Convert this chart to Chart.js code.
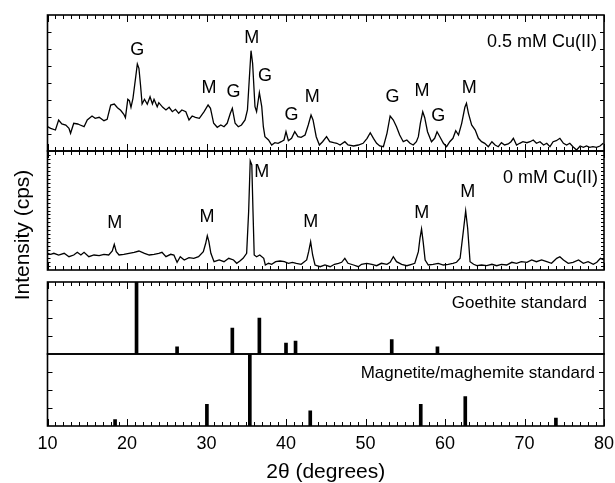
<!DOCTYPE html>
<html>
<head>
<meta charset="utf-8">
<script src="https://cdn.jsdelivr.net/npm/chart.js@4.4.0/dist/chart.umd.min.js"></script>
<style>
  html, body { margin: 0; padding: 0; background: #fff; overflow: hidden; }
  #wrap { position: relative; width: 615px; height: 483px; }
  #wrap canvas { position: absolute; left: 0; top: 0; }
</style>
</head>
<body>
<div id="wrap">
  <canvas id="p1" width="615" height="483"></canvas>
  <canvas id="p2" width="615" height="483"></canvas>
  <canvas id="p3" width="615" height="483"></canvas>
  <canvas id="p4" width="615" height="483"></canvas>
</div>
<script>
// ---- data (2theta in degrees, intensity in cps) ----
const xTicks = [10, 20, 30, 40, 50, 60, 70, 80];

// 0.5 mM Cu(II) pattern
const angles05 = [10.0,10.4,11.0,11.4,11.8,12.3,12.7,12.9,13.3,13.8,
  14.1,14.6,15.0,15.6,16.0,16.5,17.1,17.5,17.95,18.4,
  18.8,19.2,19.6,19.8,20.1,20.3,20.5,20.75,21.1,21.3,
  21.5,21.7,21.9,22.2,22.55,22.9,23.2,23.4,23.8,24.0,
  24.5,24.9,25.3,25.7,26.1,26.5,26.9,27.4,27.8,28.2,
  28.6,29.1,29.7,30.2,30.5,30.9,31.35,31.8,32.2,32.6,
  33.0,33.25,33.6,34.0,34.4,34.85,35.15,35.4,35.6,35.8,
  36.1,36.3,36.65,36.95,37.15,37.35,37.8,38.2,38.6,39.0,
  39.4,39.75,40.0,40.3,40.7,41.1,41.5,41.9,42.4,42.8,
  43.15,43.4,43.8,44.2,44.6,45.1,45.5,46.0,46.4,46.8,
  47.4,47.8,48.5,49.1,49.7,50.2,50.6,51.0,51.4,51.8,
  52.25,52.7,53.1,53.5,53.9,54.3,54.75,55.2,55.6,56.0,
  56.4,56.65,56.9,57.2,57.45,57.8,58.3,58.7,59.0,59.35,
  59.8,60.2,60.6,61.0,61.35,61.7,62.1,62.5,62.7,62.95,
  63.35,63.8,64.2,64.6,65.0,65.45,65.9,66.3,66.7,67.1,
  67.5,67.95,68.3,68.6,69.0,69.4,69.8,70.3,70.7,71.1,
  71.5,71.95,72.4,72.8,73.2,73.6,74.0,74.45,74.9,75.3,
  75.7,76.1,76.55,77.0,77.4,77.8,78.2,78.6,79.05,79.5,
  79.9];
const counts05 = [243,227,210,310,270,260,227,177,277,270,
  260,243,310,350,327,337,303,317,460,470,
  433,407,367,333,517,503,437,527,743,870,
  827,660,470,517,467,543,470,517,443,483,
  437,410,437,393,417,377,410,393,310,350,
  337,327,393,460,427,277,237,260,243,277,
  377,427,277,243,260,310,410,743,1003,877,
  443,393,583,443,243,143,110,60,83,77,
  93,110,193,103,127,193,143,137,160,260,
  360,310,143,60,93,143,93,83,77,60,
  93,60,50,60,77,127,183,127,77,50,
  43,177,350,310,243,160,93,110,77,60,
  93,143,277,393,333,193,93,127,193,143,
  77,43,93,127,203,160,277,437,477,377,
  260,210,127,93,77,43,93,60,43,83,
  60,70,93,127,60,77,93,83,93,110,
  77,93,60,77,43,93,103,127,77,60,
  77,43,10,50,37,50,37,43,37,50,
  77];

// 0 mM Cu(II) pattern
const angles0 = [10.0,10.4,10.8,11.4,12.1,12.7,13.3,13.75,14.2,14.6,
  15.2,15.85,16.5,17.1,17.7,18.15,18.4,18.65,19.0,19.6,
  20.25,20.9,21.5,22.2,22.8,23.4,24.0,24.4,24.9,25.5,
  25.9,26.3,26.7,27.2,27.8,28.4,29.0,29.6,29.9,30.1,
  30.3,30.55,30.95,31.6,32.2,32.8,33.4,33.8,34.2,34.6,
  35.05,35.3,35.5,35.7,35.85,36.0,36.3,36.7,37.2,37.4,
  37.8,38.2,38.7,39.25,39.8,40.3,40.8,41.3,41.9,42.6,
  42.85,43.1,43.35,43.65,44.3,44.9,45.55,46.1,46.6,47.0,
  47.4,47.8,48.5,49.1,49.5,50.15,50.8,51.4,52.0,52.7,
  53.1,53.5,53.9,54.55,55.2,55.8,56.2,56.65,56.85,57.05,
  57.25,57.5,57.9,58.5,59.15,59.8,60.4,61.0,61.45,61.9,
  62.3,62.6,62.85,63.15,63.6,64.0,64.6,65.25,65.9,66.5,
  67.1,67.75,68.4,69.0,69.6,70.3,70.9,71.5,72.15,72.8,
  73.4,74.05,74.45,74.9,75.5,76.1,76.8,77.4,78.0,78.65,
  79.1,79.55,80.0];
const counts0 = [167,157,167,150,167,133,150,177,150,177,
  133,150,143,157,150,190,257,183,150,157,
  167,177,190,167,150,157,167,177,133,157,
  150,77,133,100,123,117,133,183,267,343,
  283,167,83,100,83,117,100,67,90,117,
  167,583,1090,1050,583,150,133,150,117,50,
  67,57,83,90,83,67,77,67,57,100,
  183,283,150,50,33,50,33,57,67,77,
  117,67,50,33,57,67,57,43,67,57,
  77,133,83,57,43,57,67,183,317,410,
  283,100,50,57,67,50,57,67,77,117,
  383,590,417,83,57,43,50,43,57,43,
  57,50,77,67,83,77,100,83,100,83,
  67,117,133,100,67,77,100,67,83,57,
  77,117,100];

// reference standards (relative intensity, %)
const goethiteAngles = [21.2, 26.3, 33.25, 36.65, 40.0, 41.2, 53.3, 59.05];
const goethiteRel = [100, 10, 36, 50, 15, 18, 20, 10];
const magnetiteAngles = [18.5, 30.05, 35.45, 43.05, 56.95, 62.55, 73.95];
const magnetiteRel = [9, 30, 100, 21, 30, 41, 11];

// phase labels (G = goethite, M = magnetite/maghemite) and the intensity they sit at
const labels05Angles = [21.3, 30.3, 33.4, 35.7, 37.35, 40.7, 43.3, 53.4, 57.1, 59.15, 63.05];
const labels05Text = ['G','M','G','M','G','G','M','G','M','G','M'];
const labels05Level = [1010, 627, 593, 1127, 750, 360, 537, 537, 600, 350, 627];
const labels0Angles = [18.45, 30.05, 36.95, 43.1, 57.07, 62.85];
const labels0Text = ['M','M','M','M','M','M'];
const labels0Level = [467, 533, 983, 483, 567, 783];

// ---- drawing ----
const FONT = '"Liberation Sans", Arial, Helvetica, sans-serif';
Chart.defaults.font.family = FONT;
Chart.defaults.color = '#000';

// frame, inward ticks and text for each panel
const framePlugin = {
  id: 'frame',
  afterDatasetsDraw(chart, args, o) {
    const { ctx, chartArea: a } = chart;
    const x = chart.scales.x, y = chart.scales.y;
    ctx.save();
    ctx.strokeStyle = '#000';
    ctx.lineWidth = 1.6;
    ctx.strokeRect(a.left, a.top, a.right - a.left, a.bottom - a.top);

    ctx.lineWidth = 1;
    ctx.beginPath();
    for (let v = xTicks[0]; v <= xTicks[xTicks.length - 1]; v++) {
      const px = Math.round(x.getPixelForValue(v)) + 0.5;
      const len = xTicks.includes(v) ? 7 : 4;
      if (o.ticksTop) { ctx.moveTo(px, a.top); ctx.lineTo(px, a.top + len); }
      if (o.ticksBottom) { ctx.moveTo(px, a.bottom); ctx.lineTo(px, a.bottom - len); }
    }
    const h = a.bottom - a.top;
    for (let i = 1; i < o.yDivisions; i++) {
      const py = Math.round(a.bottom - h * i / o.yDivisions) + 0.5;
      ctx.moveTo(a.left, py); ctx.lineTo(a.left + o.yTickLen, py);
      ctx.moveTo(a.right, py); ctx.lineTo(a.right - o.yTickLen, py);
    }
    ctx.stroke();

    ctx.fillStyle = '#000';
    ctx.textBaseline = 'middle';
    ctx.textAlign = 'right';
    ctx.font = o.nameSize + 'px ' + FONT;
    ctx.fillText(o.name, a.right - o.nameRight, a.top + o.nameDown);

    if (o.peaks) {
      ctx.textAlign = 'center';
      ctx.font = '18px ' + FONT;
      o.peaks.angles.forEach((t, i) => {
        ctx.fillText(o.peaks.text[i], x.getPixelForValue(t), y.getPixelForValue(o.peaks.level[i]));
      });
    }

    if (o.yTitle) {
      ctx.translate(o.yTitle.x, o.yTitle.y);
      ctx.rotate(-Math.PI / 2);
      ctx.textAlign = 'center';
      ctx.font = '21px ' + FONT;
      ctx.fillText(o.yTitle.text, 0, 0);
    }
    ctx.restore();
  }
};

function hiddenX() {
  return { type: 'linear', min: 10, max: 80, offset: false, display: false };
}

function panel(id, type, dataset, yMax, padding, frame, xScale) {
  return new Chart(document.getElementById(id), {
    type: type,
    data: { datasets: [dataset] },
    options: {
      responsive: false,
      animation: false,
      events: [],
      layout: { padding: padding },
      scales: {
        x: xScale || hiddenX(),
        y: { type: 'linear', min: 0, max: yMax, display: false }
      },
      plugins: { legend: { display: false }, tooltip: { enabled: false }, frame: frame }
    },
    plugins: [framePlugin]
  });
}

function traceSet(angles, counts) {
  return {
    data: angles.map((t, i) => ({ x: t, y: counts[i] })),
    borderColor: '#000',
    borderWidth: 1.3,
    pointRadius: 0,
    tension: 0,
    fill: false
  };
}

function stickSet(angles, rel) {
  return {
    data: angles.map((t, i) => ({ x: t, y: rel[i] })),
    backgroundColor: '#000',
    borderWidth: 0,
    barThickness: 3
  };
}

panel('p1', 'line', traceSet(angles05, counts05), 1360,
  { left: 47.5, right: 11, top: 15, bottom: 332 },
  { ticksTop: true, ticksBottom: true, yDivisions: 8, yTickLen: 4,
    name: '0.5 mM Cu(II)', nameSize: 18, nameRight: 7, nameDown: 27,
    peaks: { angles: labels05Angles, text: labels05Text, level: labels05Level } });

panel('p2', 'line', traceSet(angles0, counts0), 1190,
  { left: 47.5, right: 11, top: 151, bottom: 213 },
  { ticksTop: true, ticksBottom: true, yDivisions: 30, yTickLen: 3,
    name: '0 mM Cu(II)', nameSize: 18, nameRight: 6, nameDown: 27,
    peaks: { angles: labels0Angles, text: labels0Text, level: labels0Level } });

panel('p3', 'bar', stickSet(goethiteAngles, goethiteRel), 100,
  { left: 47.5, right: 11, top: 282, bottom: 129 },
  { ticksTop: true, ticksBottom: false, yDivisions: 4, yTickLen: 5,
    name: 'Goethite standard', nameSize: 17, nameRight: 17, nameDown: 21 });

panel('p4', 'bar', stickSet(magnetiteAngles, magnetiteRel), 100,
  { left: 47.5, right: 11, top: 354, bottom: 0 },
  { ticksTop: false, ticksBottom: true, yDivisions: 4, yTickLen: 5,
    name: 'Magnetite/maghemite standard', nameSize: 17, nameRight: 9, nameDown: 19,
    yTitle: { text: 'Intensity (cps)', x: 23, y: 235 } },
  {
    type: 'linear', min: 10, max: 80, offset: false,
    ticks: { stepSize: 10, color: '#000', font: { size: 18 }, padding: 7, maxRotation: 0, autoSkip: false },
    grid: { display: false, drawTicks: false },
    border: { display: false },
    title: { display: true, text: '2θ (degrees)', color: '#000', font: { size: 21, lineHeight: 1 }, padding: 0 },
    afterFit(scale) {
      scale.height = 57;
      scale.paddingLeft = 0;
      scale.paddingRight = 0;
    }
  });
</script>
</body>
</html>
